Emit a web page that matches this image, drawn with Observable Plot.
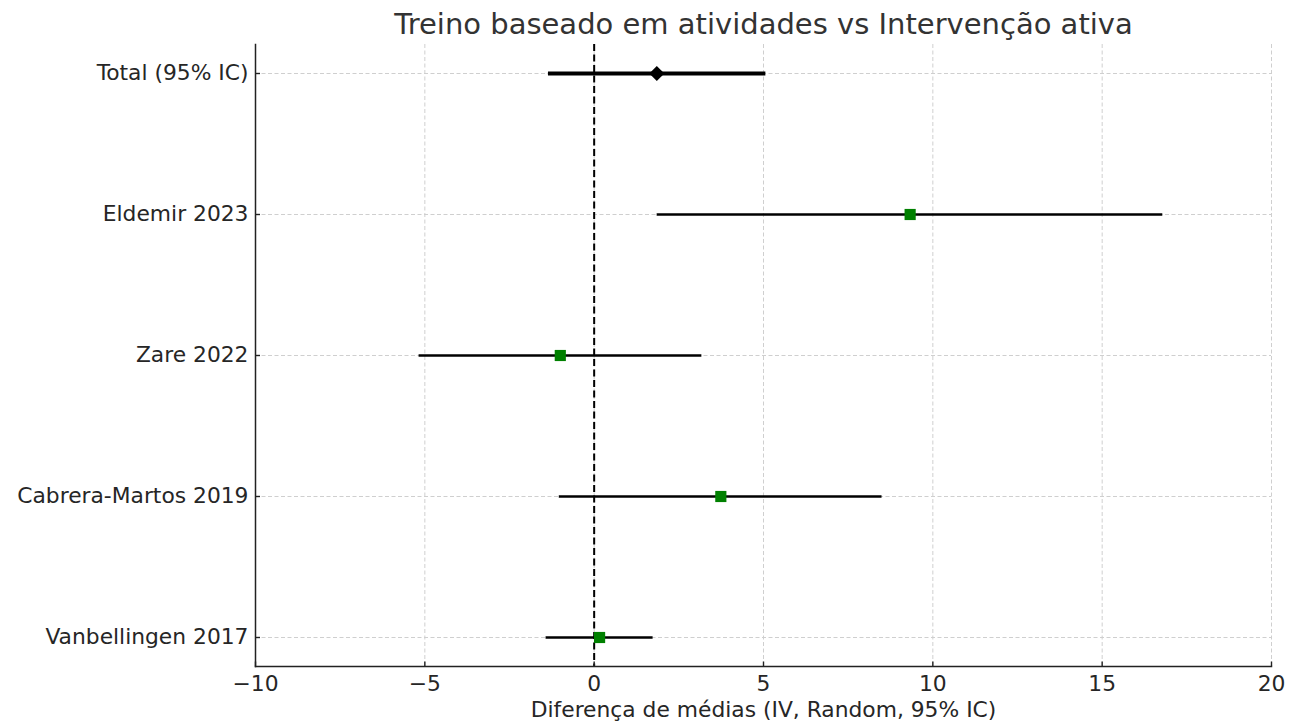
<!DOCTYPE html>
<html>
<head>
<meta charset="utf-8">
<script src="https://cdn.jsdelivr.net/npm/d3@7"></script>
<script src="https://cdn.jsdelivr.net/npm/@observablehq/plot@0.6"></script>
<style>
  html, body { margin: 0; padding: 0; background: #fff; }
  #chart svg { display: block; }
</style>
</head>
<body>
<div id="chart"></div>
<script>
const studies = ["Total (95% IC)", "Eldemir 2023", "Zare 2022", "Cabrera-Martos 2019", "Vanbellingen 2017"];
const estimates = [1.85, 9.33, -1.0, 3.74, 0.16];
const lower = [-1.35, 1.86, -5.17, -1.03, -1.42];
const upper = [5.07, 16.79, 3.18, 8.5, 1.74];
const xTicks = [-10, -5, 0, 5, 10, 15, 20];
const title = "Treino baseado em atividades vs Intervenção ativa";
const xLabel = "Diferença de médias (IV, Random, 95% IC)";

const rows = studies.map((s, i) => ({study: s, est: estimates[i], lo: lower[i], hi: upper[i], total: i === 0}));
const totalRows = rows.filter(d => d.total);
const studyRows = rows.filter(d => !d.total);

const W = 1291, H = 726;
const mL = 255, mR = 20, mT = 44, mB = 60;
const font = "DejaVu Sans, sans-serif";
const fmt = d => d < 0 ? "\u2212" + (-d) : String(d);

const chart = Plot.plot({
  width: W,
  height: H,
  marginLeft: mL,
  marginRight: mR,
  marginTop: mT,
  marginBottom: mB,
  style: {fontFamily: font, fontSize: "21.8px", color: "#262626", background: "#fff"},
  x: {domain: [-10, 20]},
  y: {type: "point", domain: studies, padding: 0.2},
  marks: [
    Plot.gridX(xTicks, {stroke: "#cfcfcf", strokeOpacity: 1, strokeWidth: 1, strokeDasharray: "4,2.5"}),
    Plot.gridY(studies, {stroke: "#cfcfcf", strokeOpacity: 1, strokeWidth: 1, strokeDasharray: "4,2.5"}),
    Plot.ruleX([0], {stroke: "#000", strokeWidth: 2, strokeDasharray: "7,3.5"}),
    Plot.ruleY(studyRows, {y: "study", x1: "lo", x2: "hi", stroke: "#000", strokeWidth: 2.6}),
    Plot.ruleY(totalRows, {y: "study", x1: "lo", x2: "hi", stroke: "#000", strokeWidth: 4.2}),
    Plot.dot(studyRows, {x: "est", y: "study", symbol: "square", r: 6.3, fill: "#008000", stroke: "none"}),
    Plot.dot(totalRows, {x: "est", y: "study", symbol: "diamond2", r: 6.8, fill: "#000", stroke: "none"}),
    // inward tick marks
    Plot.tickX(xTicks, {x: d => d, stroke: "#222", strokeWidth: 1.4, insetTop: H - mT - mB - 4.5}),
    Plot.tickY(studies, {y: d => d, stroke: "#222", strokeWidth: 1.4, insetRight: W - mL - mR - 5}),
    Plot.axisX(xTicks, {tickSize: 0, tickPadding: 9, tickFormat: fmt, label: null, fontSize: 21.8, fill: "#262626"}),
    Plot.axisY({tickSize: 0, tickPadding: 7, label: null, fontSize: 21.8, fill: "#262626"}),
    Plot.frame({anchor: "left", stroke: "#222", strokeWidth: 1.5}),
    Plot.frame({anchor: "bottom", stroke: "#222", strokeWidth: 1.5}),
    Plot.text([xLabel], {text: d => d, frameAnchor: "bottom", dy: 44, fontSize: 21.8, fill: "#262626", lineAnchor: "middle"}),
    Plot.text([title], {text: d => d, frameAnchor: "top", dy: -11, lineAnchor: "bottom", fontSize: 29, fill: "#333"})
  ]
});
document.getElementById("chart").appendChild(chart);
</script>
</body>
</html>
